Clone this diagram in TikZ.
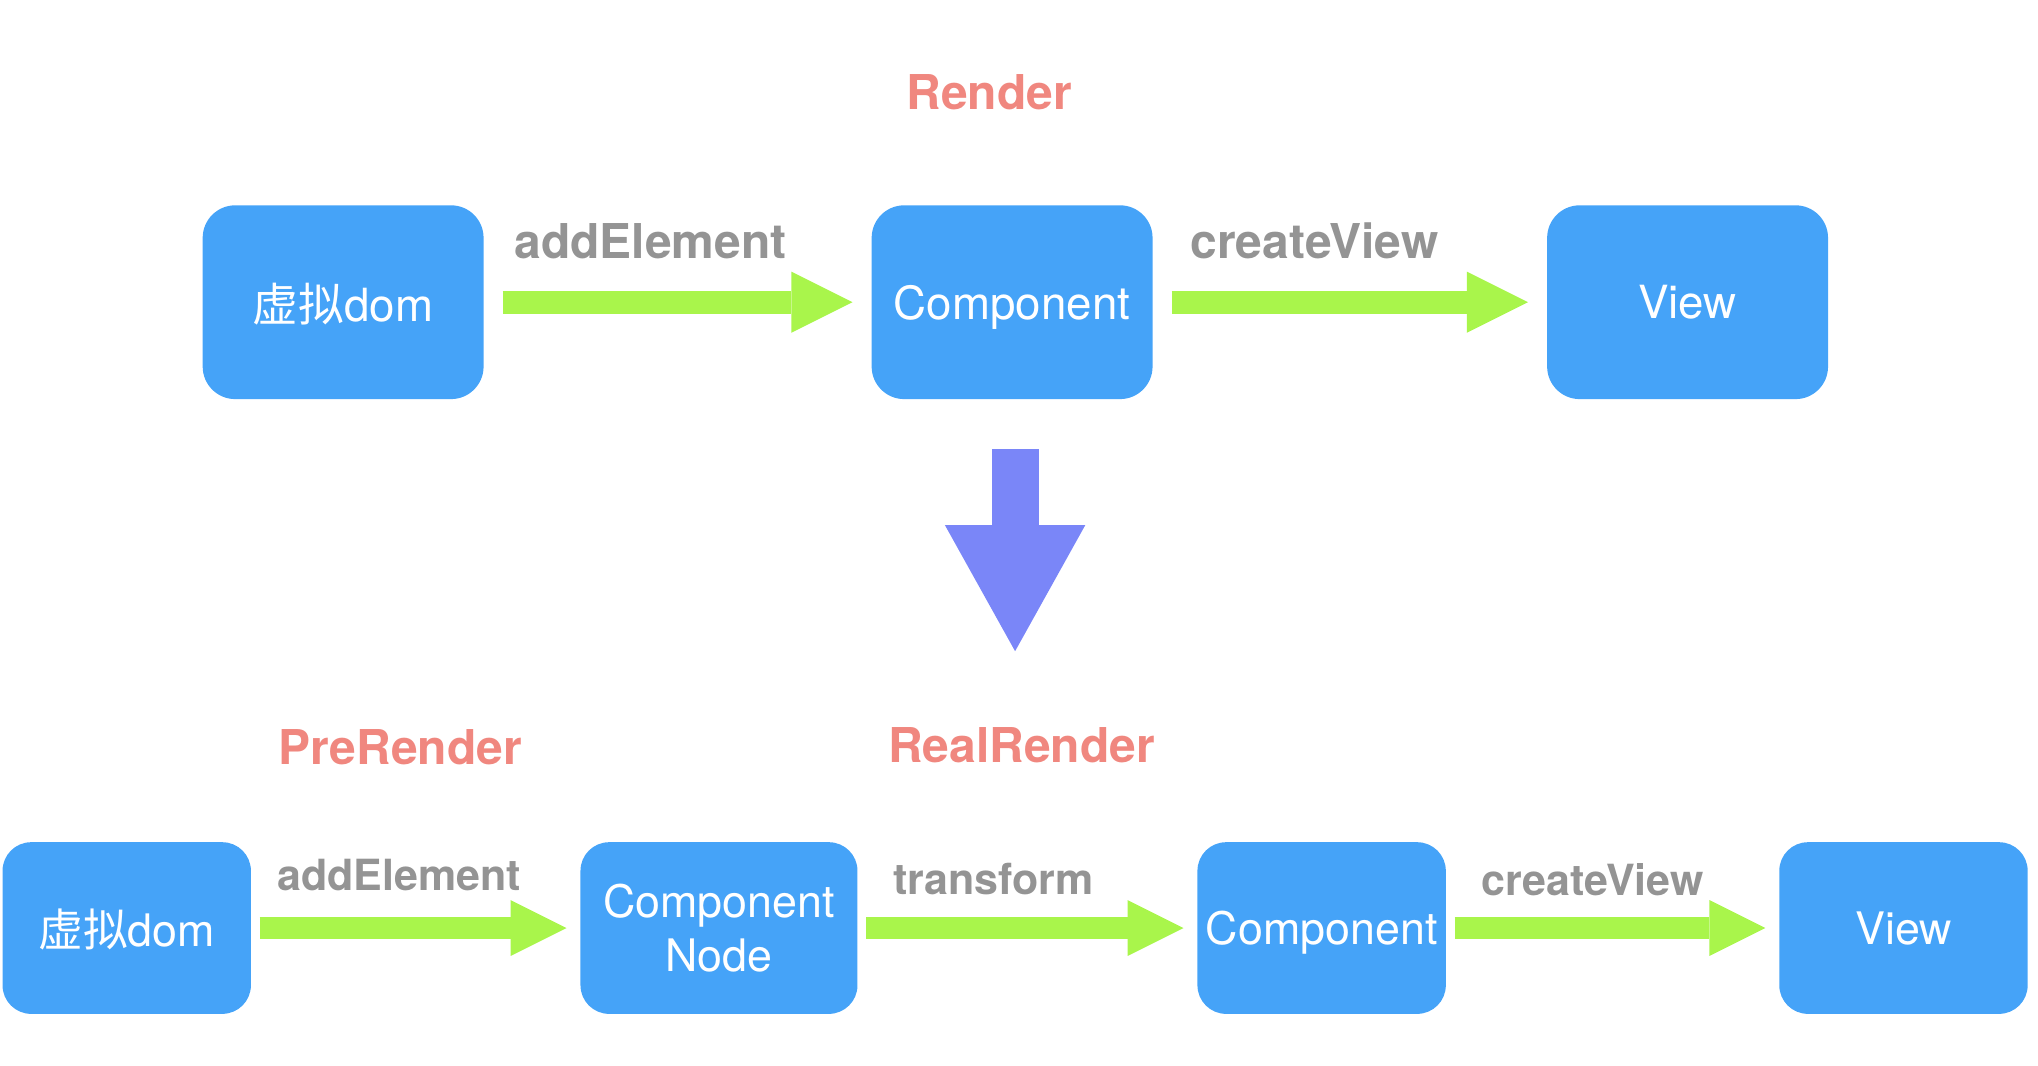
\documentclass[tikz,border=0pt]{standalone}
\usepackage{fontspec}
\setmainfont{TeX Gyre Heros}
\newfontfamily\cjk{Noto Sans CJK SC}
\usetikzlibrary{positioning,arrows.meta}
\definecolor{boxBlue}{HTML}{45A3F8}
\definecolor{flowGreen}{HTML}{A9F54B}
\definecolor{stageRed}{HTML}{F0877F}
\definecolor{verbGray}{HTML}{949494}
\definecolor{downBlue}{HTML}{7A86F8}

\begin{document}
\begin{tikzpicture}[
    x=0.01cm, y=-0.01cm,
    box/.style={%
      fill=boxBlue,
      rectangle,
      rounded corners=0.25cm,
      text=white,
      align=center,
      inner sep=0pt,
      text depth=0pt,
      minimum width=2.16cm,
      minimum height=1.49cm,
      font=\fontsize{10}{13.5}\selectfont,
    },
    lowbox/.style={%
      box,
      rounded corners=0.22cm,
      minimum width=1.91cm,
      minimum height=1.32cm,
      font=\fontsize{9.8}{11.8}\selectfont,
    },
    flow/.style={%
      draw=flowGreen,
      line width=0.18cm,
      -{Triangle[length=0.47cm,width=0.47cm,line width=0pt 0]},
      shorten <=0.14cm,
      shorten >=0.14cm,
    },
    lowflow/.style={%
      flow,
      line width=0.17cm,
      -{Triangle[length=0.43cm,width=0.43cm,line width=0pt 0]},
      shorten <=0.06cm,
      shorten >=0.10cm,
    },
    stage/.style={text=stageRed, font=\bfseries\fontsize{10.5}{12}\selectfont},
    verb/.style={text=verbGray, inner sep=0pt, font=\bfseries\fontsize{10.5}{12}\selectfont},
    lowverb/.style={verb, font=\bfseries\fontsize{9.4}{11}\selectfont},
  ]
    \useasboundingbox (0,0) rectangle (1568,820);

    % Render
    \node [stage] (R) at (761,71) {Render};
    \node [box] (A) at (264,232.5) {{\cjk 虚拟}dom};
    \node [box, right=2.97cm of A] (B) {Component};
    \node [box, right=3.02cm of B] (C) {View};

    \draw [flow] (A) -- (B) node [verb, above=0.24cm, pos=0.43] {addElement};
    \draw [flow] (B) -- (C) node [verb, above=0.24cm, pos=0.41] {createView};

    \coordinate (T) at (781,501);
    \draw [draw=downBlue, line width=0.36cm,
      -{Triangle[length=0.97cm,width=1.08cm,line width=0pt 0]},
      shorten <=0.38cm] (B.south -| T) -- (T);

    % PreRender / RealRender
    \node [stage] (P) at (308,575) {PreRender};
    \node [stage] (Q) at (786,573) {RealRender};
    \node [lowbox] (D) at (97.5,714) {{\cjk 虚拟}dom};
    \node [lowbox, minimum width=2.13cm, right=2.52cm of D] (E) {Component\\Node};
    \node [lowbox, right=2.60cm of E] (F) {Component};
    \node [lowbox, right=2.55cm of F] (G) {View};

    \draw [lowflow] (D) -- (E) node [lowverb, above=0.20cm, pos=0.45] {addElement};
    \draw [lowflow] (E) -- (F) node [lowverb, above=0.17cm, pos=0.40] {transform};
    \draw [lowflow] (F) -- (G) node [lowverb, above=0.16cm, pos=0.44] {createView};
\end{tikzpicture}
\end{document}
